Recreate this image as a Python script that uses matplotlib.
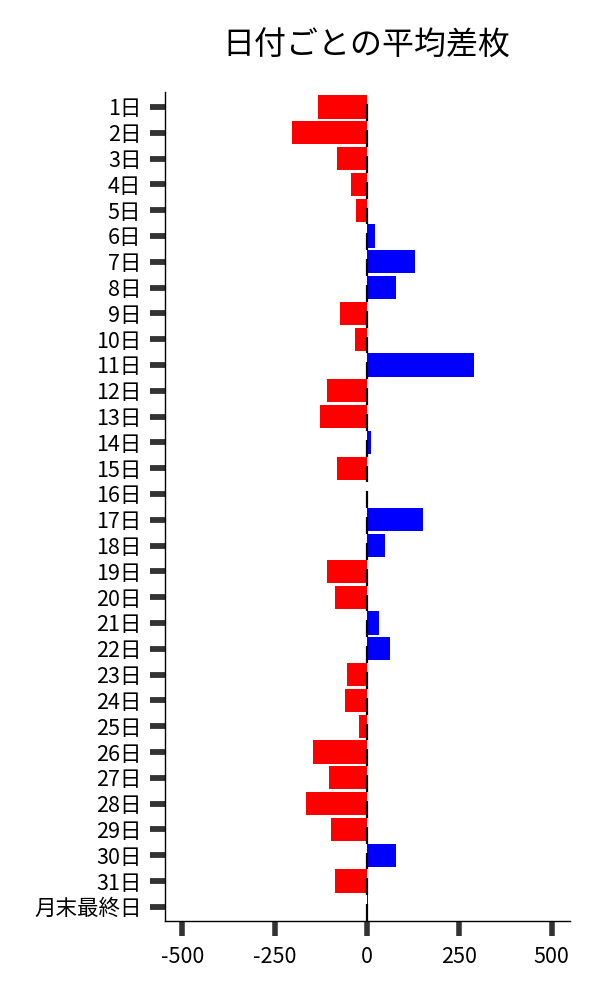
import numpy as np
import matplotlib
matplotlib.use("Agg")
from matplotlib import pyplot as plt

plt.rcParams['font.family'] = ['Noto Sans CJK JP', 'DejaVu Sans']

# days and average difference values
days = [f"{d}日" for d in range(1, 32)] + ["月末最終日"]
avg_diff = [-133, -203, -81, -43, -30, 22, 130, 79, -73, -32,
            290, -108, -127, 10, -81, 1, 152, 49, -108, -87,
            33, 62, -54, -60, -22, -146, -103, -165, -98, 79,
            -87, 3]
x_ticks = [-500, -250, 0, 250, 500]

vals = np.array(avg_diff)
pos = np.arange(len(days))
colours = ['blue' if v >= 0 else 'red' for v in vals]

fig = plt.figure(figsize=(6, 10), dpi=100)
ax = fig.add_axes([0.275, 0.079, 0.675, 0.829])

ax.barh(pos, vals, height=0.9, color=colours, zorder=2)
# little black marks at zero under each bar
ax.vlines(np.zeros(len(pos)), pos - 0.1, pos + 0.55, color='black', lw=1.6, zorder=3)

ax.set_yticks(pos)
ax.set_yticklabels(days)
ax.set_xticks(x_ticks)
ax.set_xticklabels([str(t) for t in x_ticks])
ax.set_xlim(-547, 550)
ax.set_ylim(len(days) - 1 + 0.55, -0.58)

for s in ['top', 'right']:
    ax.spines[s].set_visible(False)
for s in ['left', 'bottom']:
    ax.spines[s].set_linewidth(1.0)
    ax.spines[s].set_color('black')

ax.tick_params(axis='y', length=11, width=4.2, color='#333333', pad=6, labelsize=15.5)
ax.tick_params(axis='x', length=11, width=4.0, color='#333333', pad=7, labelsize=15.5)

fig.suptitle("日付ごとの平均差枚", fontsize=23, x=0.61, y=0.97)

plt.savefig('out.png', dpi=100)
